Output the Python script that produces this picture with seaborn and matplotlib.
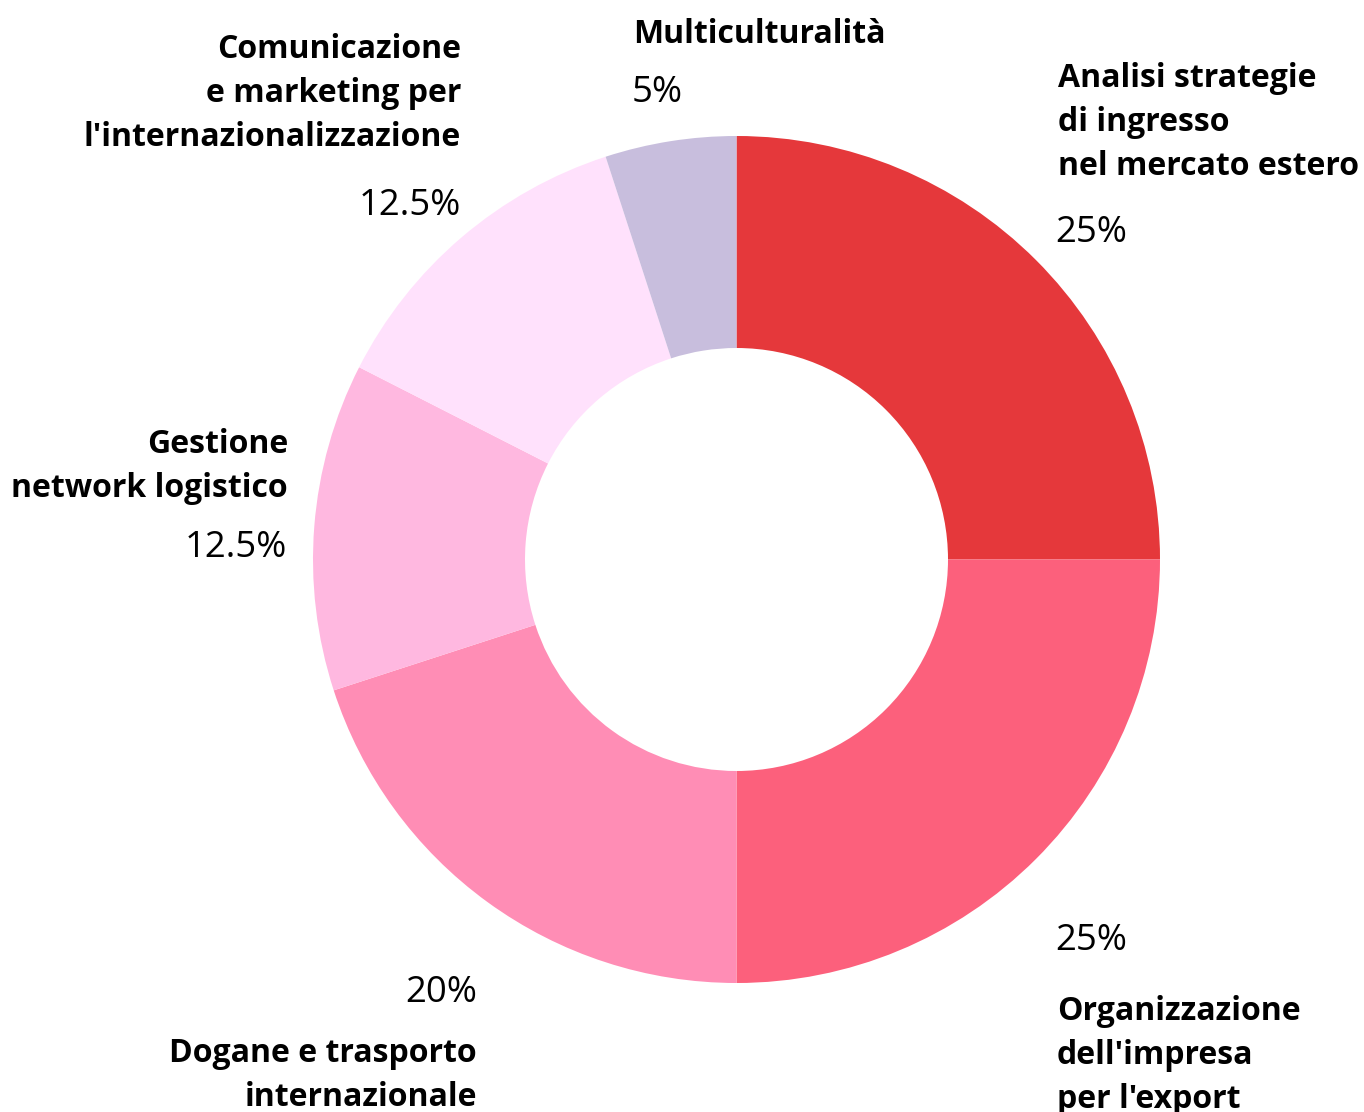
import matplotlib
matplotlib.use("Agg")
import matplotlib.pyplot as plt
import seaborn as sns

# ---- data ----
categories = [
    "Analisi strategie\ndi ingresso\nnel mercato estero",
    "Organizzazione\ndell'impresa\nper l'export",
    "Dogane e trasporto\ninternazionale",
    "Gestione\nnetwork logistico",
    "Comunicazione\ne marketing per\nl'internazionalizzazione",
    "Multiculturalità",
]
values = [25, 25, 20, 12.5, 12.5, 5]
pct_labels = ["25%", "25%", "20%", "12.5%", "12.5%", "5%"]
colors = ["#E5383B", "#FC607C", "#FF8DB5", "#FFB8E0", "#FFE1FC", "#C8BEDD"]

# ---- layout (image pixel coords, y downward) ----
W, H = 1364, 1112
label_pos = [
    (1058, 87, "left"),
    (1057, 1020, "left"),
    (477, 1062, "right"),
    (288, 453, "right"),
    (461, 58, "right"),
    (633, 43, "left"),
]
pct_pos = [
    (1055, 242, "left"),
    (1055, 950, "left"),
    (477, 1002, "right"),
    (287, 557, "right"),
    (461, 215, "right"),
    (632, 102, "left"),
]
line_gap = 44

sns.set_theme(style="white")
plt.rcParams["font.family"] = ["Open Sans", "DejaVu Sans"]

fig = plt.figure(figsize=(W / 100, H / 100), dpi=100)
ax = fig.add_axes([0, 0, 1, 1])

ax.pie(values, colors=colors, startangle=90, counterclock=False,
       center=(736.5, H - 559.5), radius=423.5,
       wedgeprops=dict(width=212, linewidth=0))
ax.set_xlim(0, W)
ax.set_ylim(0, H)
ax.set_aspect("equal")
ax.axis("off")

for cat, (x, y0, ha) in zip(categories, label_pos):
    for i, line in enumerate(cat.split("\n")):
        ax.text(x, H - (y0 + i * line_gap), line, ha=ha, va="baseline",
                fontsize=23, fontweight="bold", color="#000000")

for p, (x, y, ha) in zip(pct_labels, pct_pos):
    ax.text(x, H - y, p, ha=ha, va="baseline", fontsize=26.3,
            fontweight="normal", color="#000000")

fig.savefig("out.png", dpi=100, facecolor="white")
